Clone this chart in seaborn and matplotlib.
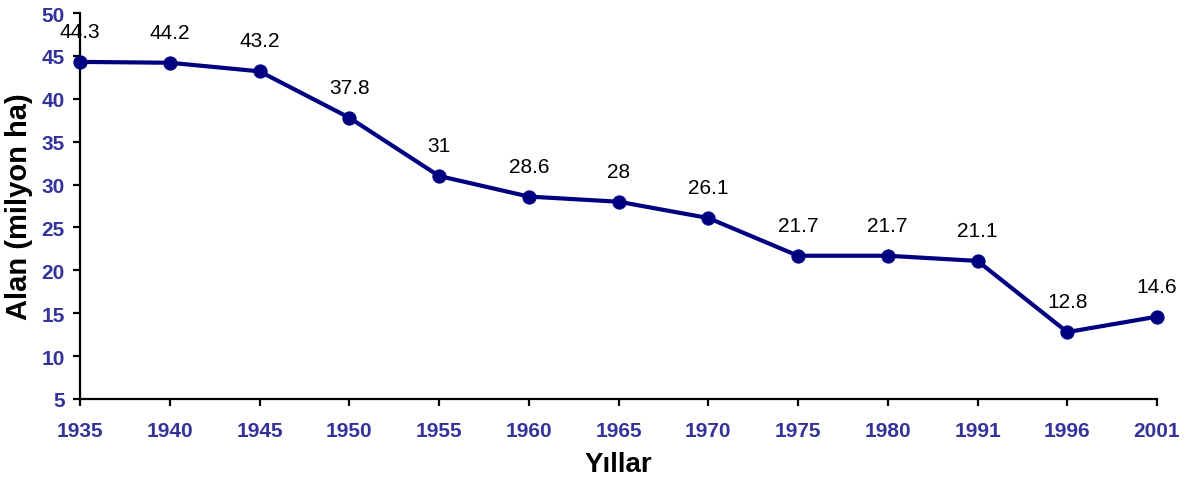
import matplotlib
matplotlib.use("Agg")
import matplotlib.pyplot as plt
import seaborn as sns
import pandas as pd

years = ["1935", "1940", "1945", "1950", "1955", "1960", "1965", "1970", "1975", "1980", "1991", "1996", "2001"]
area = [44.3, 44.2, 43.2, 37.8, 31, 28.6, 28, 26.1, 21.7, 21.7, 21.1, 12.8, 14.6]
value_labels = ["44.3", "44.2", "43.2", "37.8", "31", "28.6", "28", "26.1", "21.7", "21.7", "21.1", "12.8", "14.6"]

sns.set_theme(style="white")
plt.rcParams['font.family'] = ['Liberation Sans', 'DejaVu Sans']

df = pd.DataFrame({"pos": range(len(years)), "area": area})

fig = plt.figure(figsize=(11.94, 4.81), dpi=100)
ax = fig.add_axes([80/1194, 81/481, (1157-80)/1194, (400-14)/481])

sns.lineplot(data=df, x="pos", y="area", ax=ax, color="#000080", linewidth=3,
             marker="o", markersize=9.5, markeredgecolor="#000080", clip_on=False, zorder=5)

for x, y, t in zip(df["pos"], df["area"], value_labels):
    ax.annotate(t, (x, y), xytext=(0, 15), textcoords="offset points",
                ha="center", va="bottom", fontsize=15, color="black", zorder=6)

ax.set_xlim(0, len(years) - 1)
ax.set_ylim(5, 50)
ax.set_yticks(range(5, 51, 5))
ax.set_xticks(range(len(years)))
ax.set_xticklabels(years)

for s in ["top", "right"]:
    ax.spines[s].set_visible(False)
for s in ["left", "bottom"]:
    ax.spines[s].set_color("black")
    ax.spines[s].set_linewidth(1.6)

ax.tick_params(axis="both", which="major", direction="out", length=5, width=1.6,
               color="black", labelsize=15, labelcolor="#333399")
ax.tick_params(axis="y", pad=6)
ax.tick_params(axis="x", pad=11)
ax.tick_params(left=True, bottom=True)
for lab in ax.get_xticklabels() + ax.get_yticklabels():
    lab.set_fontweight("bold")

ax.set_xlabel("Yıllar", fontsize=20, fontweight="bold", color="black", labelpad=8)
ax.set_ylabel("Alan (milyon ha)", fontsize=21, fontweight="bold", color="black", labelpad=6)
ax.grid(False)

fig.savefig("out.png", dpi=100)
